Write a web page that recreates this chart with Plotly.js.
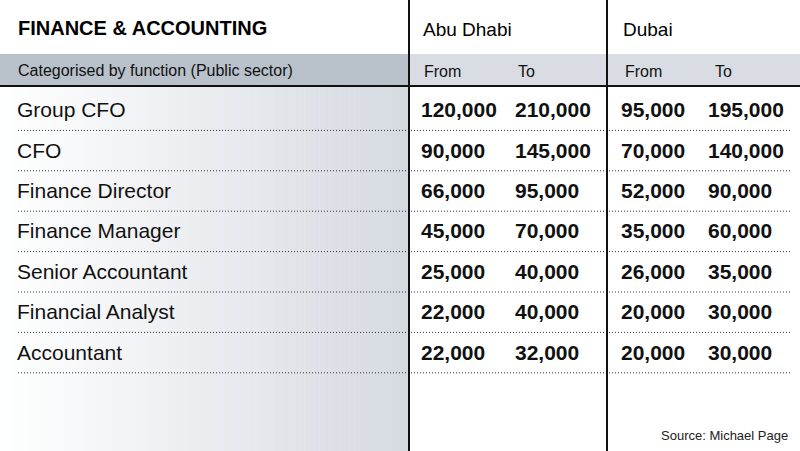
<!DOCTYPE html>
<html>
<head>
<meta charset="utf-8">
<script src="https://cdn.plot.ly/plotly-3.0.1.min.js"></script>
<style>
  html, body { margin: 0; padding: 0; background: #fff; }
  #chart { width: 800px; height: 451px; }
</style>
</head>
<body>
<div id="chart"></div>
<script>
// Table data
const roles = ["Group CFO", "CFO", "Finance Director", "Finance Manager",
               "Senior Accountant", "Financial Analyst", "Accountant"];
const abuDhabiFrom = [120000, 90000, 66000, 45000, 25000, 22000, 22000];
const abuDhabiTo   = [210000, 145000, 95000, 70000, 40000, 40000, 32000];
const dubaiFrom    = [95000, 70000, 52000, 35000, 26000, 20000, 20000];
const dubaiTo      = [195000, 140000, 90000, 60000, 35000, 30000, 30000];

const cities    = ["Abu Dhabi", "Dubai"];
const subHeads  = ["From", "To", "From", "To"];

const FONT = '"Liberation Sans", Arial, sans-serif';

// Layout grid (pixel units, y grows downwards)
const rowTop = 91, rowStep = 40.4;
const rowY = roles.map((_, i) => rowTop + rowStep * i + 21);
const sepY = roles.map((_, i) => rowTop + rowStep * (i + 1) - 1);
const colX = [421, 515, 621, 708];
const divX = [409, 607];

const fmt = v => v.toLocaleString('en-US');

// text traces
function textCol(x, vals, bold) {
  return {
    type: 'scatter',
    mode: 'text',
    x: vals.map(() => x),
    y: rowY,
    text: vals,
    textposition: 'middle right',
    textfont: { family: FONT, size: 21, color: '#111',
                weight: bold ? 'bold' : 'normal' },
    hoverinfo: 'skip',
    showlegend: false
  };
}

const traces = [
  textCol(17, roles, false),
  textCol(colX[0], abuDhabiFrom.map(fmt), true),
  textCol(colX[1], abuDhabiTo.map(fmt), true),
  textCol(colX[2], dubaiFrom.map(fmt), true),
  textCol(colX[3], dubaiTo.map(fmt), true)
];

// shapes: gradient panel, header bands, rules
const shapes = [];
const gradEnd = [213, 218, 225];
const strips = 82;
for (let i = 0; i < strips; i++) {
  const t = i / (strips - 1);
  const c = gradEnd.map(e => Math.round(255 + (e - 255) * t));
  shapes.push({
    type: 'rect', layer: 'below', xref: 'x', yref: 'y',
    x0: i * divX[0] / strips, x1: (i + 1) * divX[0] / strips + 0.5,
    y0: 86, y1: 451,
    fillcolor: `rgb(${c[0]},${c[1]},${c[2]})`, line: { width: 0 }
  });
}
shapes.push({ type: 'rect', layer: 'below', x0: 0, x1: divX[0], y0: 54, y1: 86,
              fillcolor: '#b9c1cb', line: { width: 0 } });
shapes.push({ type: 'rect', layer: 'below', x0: divX[0], x1: 800, y0: 54, y1: 86,
              fillcolor: '#d9dde3', line: { width: 0 } });
sepY.forEach(y => shapes.push({
  type: 'line', x0: 18, x1: 792, y0: y, y1: y,
  line: { color: '#333', width: 1, dash: '1px,2px' }
}));
shapes.push({ type: 'line', x0: 0, x1: 800, y0: 86, y1: 86,
              line: { color: '#111', width: 2 } });
divX.forEach(x => shapes.push({ type: 'line', x0: x, x1: x, y0: 0, y1: 451,
                                line: { color: '#111', width: 2 } }));

// annotations: titles and headers
const annotations = [
  { x: 16, y: 28, text: '<b>FINANCE &amp; ACCOUNTING</b>',
    font: { family: FONT, size: 20, color: '#000' } },
  { x: 16, y: 70, text: 'Categorised by function (Public sector)',
    font: { family: FONT, size: 16, color: '#111' } },
  { x: colX[0], y: 29, text: cities[0], font: { family: FONT, size: 19, color: '#000' } },
  { x: colX[2], y: 29, text: cities[1], font: { family: FONT, size: 19, color: '#000' } },
  { x: 790, y: 435, text: 'Source: Michael Page', xanchor: 'right',
    font: { family: FONT, size: 13, color: '#222' } }
];
const subX = [422, 516, 623, 713];
subHeads.forEach((s, i) => annotations.push({
  x: subX[i], y: 71, text: s, font: { family: FONT, size: 16, color: '#111' }
}));
annotations.forEach(a => {
  a.xref = 'x'; a.yref = 'y'; a.showarrow = false;
  a.xanchor = a.xanchor || 'left'; a.yanchor = 'middle';
});

const layout = {
  width: 800, height: 451,
  margin: { l: 0, r: 0, t: 0, b: 0 },
  paper_bgcolor: '#ffffff', plot_bgcolor: 'rgba(0,0,0,0)',
  xaxis: { range: [0, 800], visible: false, fixedrange: true },
  yaxis: { range: [451, 0], visible: false, fixedrange: true },
  shapes: shapes,
  annotations: annotations,
  showlegend: false
};

Plotly.newPlot('chart', traces, layout, { staticPlot: true });
</script>
</body>
</html>
